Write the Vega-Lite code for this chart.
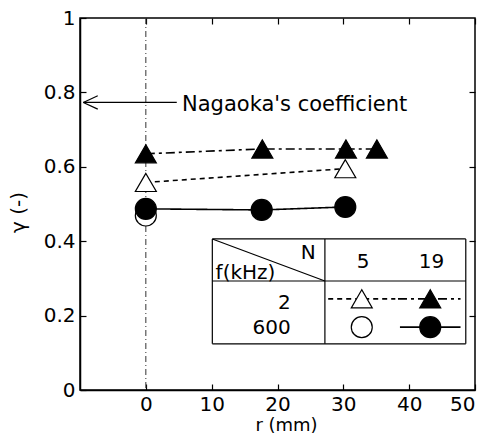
{
  "$schema": "https://vega.github.io/schema/vega-lite/v6.json",
  "width": 395,
  "height": 372,
  "autosize": {"type": "none"},
  "padding": {"left": 80, "top": 18, "right": 14, "bottom": 45},
  "background": "white",
  "config": {
    "view": {"stroke": "black", "strokeWidth": 1.5},
    "font": "DejaVu Sans",
    "axis": {
      "grid": false,
      "domainColor": "black",
      "domainWidth": 1.5,
      "tickColor": "black",
      "tickSize": -6,
      "tickWidth": 1.2,
      "labelColor": "black",
      "labelFontSize": 20,
      "labelFont": "DejaVu Sans",
      "labelPadding": 11,
      "titleFont": "DejaVu Sans",
      "titleFontSize": 20,
      "titleFontWeight": "normal",
      "titleColor": "black"
    }
  },
  "datasets": {
    "series": [
      {"r": 0, "g": 0.635, "s": "f2N19"},
      {"r": 17.7, "g": 0.648, "s": "f2N19"},
      {"r": 30.4, "g": 0.648, "s": "f2N19"},
      {"r": 35.1, "g": 0.648, "s": "f2N19"},
      {"r": 0, "g": 0.558, "s": "f2N5"},
      {"r": 30.3, "g": 0.595, "s": "f2N5"},
      {"r": 0, "g": 0.487, "s": "f600N19"},
      {"r": 17.6, "g": 0.484, "s": "f600N19"},
      {"r": 30.3, "g": 0.492, "s": "f600N19"},
      {"r": 0, "g": 0.469, "s": "f600N5"}
    ],
    "table": [
      {"x": 10.1, "x2": 48.6, "y": 0.406, "y2": 0.406},
      {"x": 10.1, "x2": 48.6, "y": 0.124, "y2": 0.124},
      {"x": 10.1, "x2": 10.1, "y": 0.124, "y2": 0.406},
      {"x": 48.6, "x2": 48.6, "y": 0.124, "y2": 0.406},
      {"x": 27.2, "x2": 27.2, "y": 0.124, "y2": 0.406},
      {"x": 10.1, "x2": 48.6, "y": 0.293, "y2": 0.293},
      {"x": 10.1, "x2": 27.2, "y": 0.406, "y2": 0.293},
      {"x": -9.5, "x2": 4.7, "y": 0.773, "y2": 0.773},
      {"x": -9.5, "x2": -7.3, "y": 0.773, "y2": 0.791},
      {"x": -9.5, "x2": -7.3, "y": 0.773, "y2": 0.755}
    ],
    "legLines": [
      {"x": 27.7, "x2": 37.9, "y": 0.245, "s": "f2N5"},
      {"x": 38.3, "x2": 47.8, "y": 0.245, "s": "f2N19"},
      {"x": 38.6, "x2": 47.8, "y": 0.169, "s": "f600N19"}
    ],
    "legPoints": [
      {"x": 32.8, "y": 0.245, "s": "f2N5"},
      {"x": 43.2, "y": 0.245, "s": "f2N19"},
      {"x": 32.8, "y": 0.169, "s": "f600N5"},
      {"x": 43.2, "y": 0.169, "s": "f600N19"}
    ],
    "txtCenter": [
      {"x": 33.0, "y": 0.344, "t": "5"},
      {"x": 43.4, "y": 0.344, "t": "19"}
    ],
    "txtRight": [
      {"x": 25.8, "y": 0.368, "t": "N"},
      {"x": 22.0, "y": 0.234, "t": "2"},
      {"x": 22.0, "y": 0.167, "t": "600"}
    ],
    "txtLeft": [
      {"x": 10.6, "y": 0.315, "t": "f(kHz)"}
    ],
    "txtNote": [
      {"x": 5.5, "y": 0.765, "t": "Nagaoka's coefficient"}
    ],
    "zero": [{"x": 0}]
  },
  "layer": [
    {
      "data": {"name": "zero"},
      "mark": {"type": "rule", "color": "#333", "strokeWidth": 1, "strokeDash": [6, 3, 1, 3]},
      "encoding": {
        "x": {"field": "x", "type": "quantitative",
              "scale": {"domain": [-10, 50], "nice": false, "zero": false},
              "axis": {"orient": "top", "labels": false, "title": null, "domain": false, "values": [0, 10, 20, 30, 40, 50]}}
      }
    },
    {
      "data": {"name": "table"},
      "mark": {"type": "rule", "color": "black", "strokeWidth": 1.2},
      "encoding": {
        "x": {"field": "x", "type": "quantitative", "scale": {"domain": [-10, 50], "nice": false, "zero": false}, "axis": null},
        "x2": {"field": "x2"},
        "y": {"field": "y", "type": "quantitative",
              "scale": {"domain": [0, 1], "nice": false, "zero": false},
              "axis": {"orient": "right", "labels": false, "title": null, "domain": false, "values": [0.2, 0.4, 0.6, 0.8]}},
        "y2": {"field": "y2"}
      }
    },
    {
      "data": {"name": "series"},
      "transform": [{"filter": "datum.s !== 'f600N5'"}],
      "mark": {"type": "line", "color": "black", "strokeWidth": 1.6},
      "encoding": {
        "x": {"field": "r", "type": "quantitative", "scale": {"domain": [-10, 50], "nice": false, "zero": false}, "axis": null},
        "y": {"field": "g", "type": "quantitative", "scale": {"domain": [0, 1], "nice": false, "zero": false}, "axis": null},
        "detail": {"field": "s"},
        "strokeDash": {"field": "s", "type": "nominal", "legend": null,
                       "scale": {"domain": ["f2N19", "f2N5", "f600N19"], "range": [[9, 4, 3, 4], [5, 4], [1, 0]]}}
      }
    },
    {
      "data": {"name": "legLines"},
      "mark": {"type": "rule", "color": "black", "strokeWidth": 1.6},
      "encoding": {
        "x": {"field": "x", "type": "quantitative", "scale": {"domain": [-10, 50], "nice": false, "zero": false}, "axis": null},
        "x2": {"field": "x2"},
        "y": {"field": "y", "type": "quantitative", "scale": {"domain": [0, 1], "nice": false, "zero": false}, "axis": null},
        "strokeDash": {"field": "s", "type": "nominal", "legend": null,
                       "scale": {"domain": ["f2N19", "f2N5", "f600N19"], "range": [[9, 4, 3, 4], [5, 4], [1, 0]]}}
      }
    },
    {
      "data": {"name": "legPoints"},
      "mark": {"type": "point", "filled": true, "stroke": "black", "strokeWidth": 1.2, "opacity": 1},
      "encoding": {
        "x": {"field": "x", "type": "quantitative", "scale": {"domain": [-10, 50], "nice": false, "zero": false}, "axis": null},
        "y": {"field": "y", "type": "quantitative", "scale": {"domain": [0, 1], "nice": false, "zero": false}, "axis": null},
        "shape": {"field": "s", "type": "nominal", "legend": null,
                  "scale": {"domain": ["f2N19", "f2N5", "f600N19", "f600N5"], "range": ["triangle-up", "triangle-up", "circle", "circle"]}},
        "fill": {"field": "s", "type": "nominal", "legend": null,
                 "scale": {"domain": ["f2N19", "f2N5", "f600N19", "f600N5"], "range": ["black", "white", "black", "white"]}},
        "size": {"field": "s", "type": "nominal", "legend": null,
                 "scale": {"domain": ["f2N19", "f2N5", "f600N19", "f600N5"], "range": [440, 440, 380, 380]}}
      }
    },
    {
      "data": {"name": "series"},
      "mark": {"type": "point", "filled": true, "stroke": "black", "strokeWidth": 1.2, "opacity": 1},
      "encoding": {
        "x": {"field": "r", "type": "quantitative",
              "scale": {"domain": [-10, 50], "nice": false, "zero": false},
              "axis": {"orient": "bottom", "title": "r (mm)", "values": [0, 10, 20, 30, 40, 50], "format": "d", "labelPadding": 10, "titlePadding": 2, "titleFontSize": 18, "titleX": 206}},
        "y": {"field": "g", "type": "quantitative",
              "scale": {"domain": [0, 1], "nice": false, "zero": false},
              "axis": {"orient": "left", "title": "γ  (-)", "values": [0, 0.2, 0.4, 0.6, 0.8, 1], "format": "~g", "titlePadding": 15, "titleY": 194}},
        "order": {"field": "g", "type": "quantitative", "sort": "ascending"},
        "shape": {"field": "s", "type": "nominal", "legend": null,
                  "scale": {"domain": ["f2N19", "f2N5", "f600N19", "f600N5"], "range": ["triangle-up", "triangle-up", "circle", "circle"]}},
        "fill": {"field": "s", "type": "nominal", "legend": null,
                 "scale": {"domain": ["f2N19", "f2N5", "f600N19", "f600N5"], "range": ["black", "white", "black", "white"]}},
        "size": {"field": "s", "type": "nominal", "legend": null,
                 "scale": {"domain": ["f2N19", "f2N5", "f600N19", "f600N5"], "range": [440, 440, 380, 380]}}
      }
    },
    {
      "data": {"name": "txtCenter"},
      "mark": {"type": "text", "align": "center", "baseline": "middle", "fontSize": 20, "color": "black"},
      "encoding": {
        "x": {"field": "x", "type": "quantitative", "scale": {"domain": [-10, 50], "nice": false, "zero": false}, "axis": null},
        "y": {"field": "y", "type": "quantitative", "scale": {"domain": [0, 1], "nice": false, "zero": false}, "axis": null},
        "text": {"field": "t"}
      }
    },
    {
      "data": {"name": "txtRight"},
      "mark": {"type": "text", "align": "right", "baseline": "middle", "fontSize": 20, "color": "black"},
      "encoding": {
        "x": {"field": "x", "type": "quantitative", "scale": {"domain": [-10, 50], "nice": false, "zero": false}, "axis": null},
        "y": {"field": "y", "type": "quantitative", "scale": {"domain": [0, 1], "nice": false, "zero": false}, "axis": null},
        "text": {"field": "t"}
      }
    },
    {
      "data": {"name": "txtLeft"},
      "mark": {"type": "text", "align": "left", "baseline": "middle", "fontSize": 20, "color": "black"},
      "encoding": {
        "x": {"field": "x", "type": "quantitative", "scale": {"domain": [-10, 50], "nice": false, "zero": false}, "axis": null},
        "y": {"field": "y", "type": "quantitative", "scale": {"domain": [0, 1], "nice": false, "zero": false}, "axis": null},
        "text": {"field": "t"}
      }
    },
    {
      "data": {"name": "txtNote"},
      "mark": {"type": "text", "align": "left", "baseline": "middle", "fontSize": 21, "color": "black"},
      "encoding": {
        "x": {"field": "x", "type": "quantitative", "scale": {"domain": [-10, 50], "nice": false, "zero": false}, "axis": null},
        "y": {"field": "y", "type": "quantitative", "scale": {"domain": [0, 1], "nice": false, "zero": false}, "axis": null},
        "text": {"field": "t"}
      }
    }
  ],
  "resolve": {"axis": {"x": "independent", "y": "independent"}}
}
